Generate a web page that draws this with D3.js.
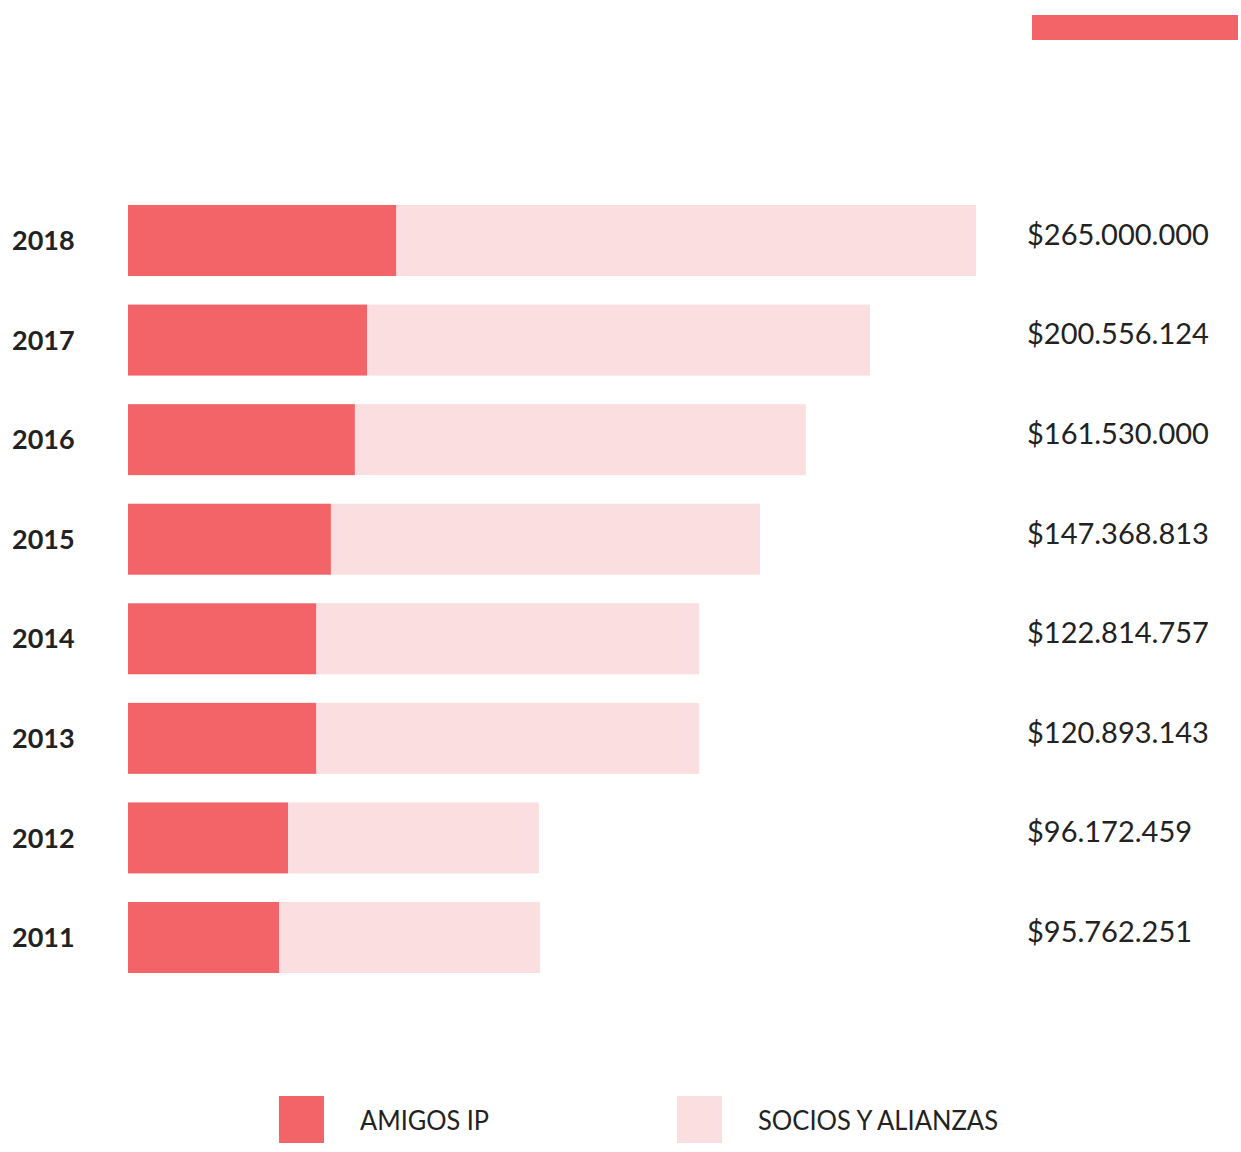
<!DOCTYPE html>
<html>
<head>
<meta charset="utf-8">
<script src="https://cdn.jsdelivr.net/npm/d3@7"></script>
<style>
    body { margin: 0; background: #fff; }
    svg { display: block; }
</style>
</head>
<body>
<div id="chart"></div>
<script>
// años, de arriba hacia abajo
let years = ['2018', '2017', '2016', '2015', '2014', '2013', '2012', '2011'];
// tramos tal como están dibujados (millones, aprox.)
let amigos = [83.8, 74.7, 70.9, 63.4, 58.8, 58.8, 50.0, 47.2];
let socios = [181.2, 157.2, 140.9, 134.1, 119.7, 119.7, 78.4, 81.6];
let totals = ['$265.000.000', '$200.556.124', '$161.530.000', '$147.368.813',
    '$122.814.757', '$120.893.143', '$96.172.459', '$95.762.251'];
let legendLabels = ['AMIGOS IP', 'SOCIOS Y ALIANZAS'];

const red = '#F26467';
const pink = '#FBDEDF';

let svg = d3.select('#chart').append('svg')
    .attr('width', 1241)
    .attr('height', 1152);

let x = d3.scaleLinear().domain([0, 265]).range([128, 976]);
let y = d3.scaleBand().domain(years).range([205, 973]).paddingInner(0.287).paddingOuter(0);

// franja decorativa arriba a la derecha
svg.append('rect')
    .attr('x', 1032).attr('y', 15)
    .attr('width', 206).attr('height', 25)
    .attr('fill', red);

let rows = svg.selectAll('.row')
    .data(years)
    .enter().append('g')
    .attr('class', 'row')
    .attr('transform', d => `translate(0,${y(d)})`);

rows.append('rect')
    .attr('x', (d, i) => x(amigos[i]))
    .attr('y', 0)
    .attr('width', (d, i) => x(amigos[i] + socios[i]) - x(amigos[i]))
    .attr('height', y.bandwidth())
    .attr('fill', pink);

rows.append('rect')
    .attr('x', x(0))
    .attr('y', 0)
    .attr('width', (d, i) => x(amigos[i]) - x(0))
    .attr('height', y.bandwidth())
    .attr('fill', red);

rows.append('text')
    .attr('x', 12)
    .attr('y', y.bandwidth() / 2)
    .attr('dy', '0.36em')
    .style('font-family', 'Lato, sans-serif')
    .style('font-weight', 'bold')
    .style('font-size', '27px')
    .style('fill', '#222')
    .text(d => d);

rows.append('text')
    .attr('x', 1027)
    .attr('y', y.bandwidth() / 2 - 6)
    .attr('dy', '0.36em')
    .style('font-family', 'Lato, sans-serif')
    .style('font-size', '29px')
    .style('fill', '#222')
    .text((d, i) => totals[i]);

// leyenda
let legend = svg.selectAll('.legend')
    .data(legendLabels)
    .enter().append('g')
    .attr('class', 'legend')
    .attr('transform', (d, i) => `translate(${i ? 677 : 279},1096)`);

legend.append('rect')
    .attr('width', 45)
    .attr('height', 47)
    .attr('fill', (d, i) => i ? pink : red);

legend.append('text')
    .attr('x', 81)
    .attr('y', 24)
    .attr('dy', '0.36em')
    .attr('textLength', (d, i) => i ? 240 : 129)
    .attr('lengthAdjust', 'spacingAndGlyphs')
    .style('font-family', 'Lato, sans-serif')
    .style('font-size', '27px')
    .style('fill', '#222')
    .text(d => d);
</script>
</body>
</html>
